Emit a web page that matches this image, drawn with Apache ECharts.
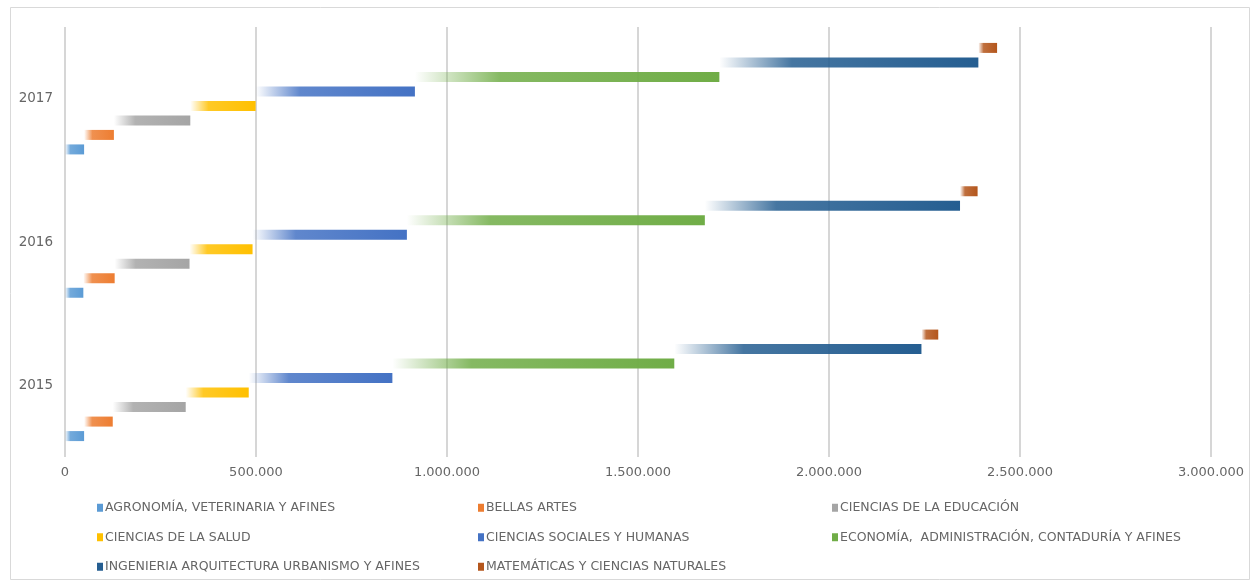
<!DOCTYPE html>
<html>
<head>
<meta charset="utf-8">
<script src="https://cdn.jsdelivr.net/npm/echarts@6/dist/echarts.min.js"></script>
<style>
  html, body { margin: 0; padding: 0; background: #fff; }
  #chart { width: 1258px; height: 586px; }
</style>
</head>
<body>
<div id="chart"></div>
<script>
// Enrolment by field of knowledge, per year
const years = ['2015', '2016', '2017'];
const seriesNames = [
  'AGRONOMÍA, VETERINARIA Y AFINES',
  'BELLAS ARTES',
  'CIENCIAS DE LA EDUCACIÓN',
  'CIENCIAS DE LA SALUD',
  'CIENCIAS SOCIALES Y HUMANAS',
  'ECONOMÍA,  ADMINISTRACIÓN, CONTADURÍA Y AFINES',
  'INGENIERIA ARQUITECTURA URBANISMO Y AFINES',
  'MATEMÁTICAS Y CIENCIAS NATURALES'
];
const agronomia   = [50000, 48000, 50000];
const bellasArtes = [75000, 82000, 78000];
const educacion   = [191000, 196000, 200000];
const salud       = [165000, 165000, 171000];
const sociales    = [376000, 404000, 417000];
const economia    = [738000, 780000, 797000];
const ingenieria  = [647000, 668000, 678000];
const matematicas = [44000, 46000, 49000];
const xTicks = [0, 500000, 1000000, 1500000, 2000000, 2500000, 3000000];

const values = [agronomia, bellasArtes, educacion, salud, sociales, economia, ingenieria, matematicas];
const colors = ['#5B9BD5', '#ED7D31', '#A5A5A5', '#FFC000', '#4472C4', '#70AD47', '#255E91', '#B4561C'];

function hexToRgba(hex, a) {
  const n = parseInt(hex.slice(1), 16);
  return 'rgba(' + ((n >> 16) & 255) + ',' + ((n >> 8) & 255) + ',' + (n & 255) + ',' + a + ')';
}
function fade(hex) {
  return new echarts.graphic.LinearGradient(0, 0, 1, 0, [
    { offset: 0, color: hexToRgba(hex, 0) },
    { offset: 0.28, color: hexToRgba(hex, 0.85) },
    { offset: 1, color: hexToRgba(hex, 1) }
  ]);
}
function fmt(v) {
  return String(v).replace(/\B(?=(\d{3})+(?!\d))/g, '.');
}

// Each field begins where the previous field ends: the offset is the running total.
const bases = [];
const running = years.map(() => 0);
values.forEach((vals) => {
  bases.push(running.slice());
  vals.forEach((v, k) => { running[k] += v; });
});

// Slots are filled top-down, so the last field goes first to keep the first one at the bottom.
const series = [];
for (let i = values.length - 1; i >= 0; i--) {
  series.push({
    name: '_base' + i,
    type: 'bar',
    stack: 's' + i,
    data: bases[i],
    itemStyle: { color: 'transparent' },
    barWidth: 10,
    barGap: '45%',
    silent: true
  });
  series.push({
    name: seriesNames[i],
    type: 'bar',
    stack: 's' + i,
    data: values[i],
    itemStyle: { color: fade(colors[i]) },
    barWidth: 10,
    barGap: '45%'
  });
}

const legendText = { color: '#666', fontSize: 12.5, fontFamily: 'DejaVu Sans' };
function legendCol(left, names) {
  return {
    orient: 'vertical',
    left: left,
    top: 495,
    itemWidth: 6,
    itemHeight: 8,
    itemGap: 14,
    icon: 'rect',
    textStyle: Object.assign({ lineHeight: 15.5, padding: [0, 0, 0, -3] }, legendText),
    data: names.map(n => ({ name: n, itemStyle: { color: colors[seriesNames.indexOf(n)] } }))
  };
}

const chart = echarts.init(document.getElementById('chart'));
chart.setOption({
  animation: false,
  backgroundColor: '#fff',
  grid: { left: 65, right: 47, top: 27, bottom: 129, containLabel: false },
  xAxis: {
    type: 'value',
    min: xTicks[0],
    max: xTicks[xTicks.length - 1],
    interval: xTicks[1] - xTicks[0],
    axisLine: { show: false },
    axisTick: { show: false },
    splitLine: { lineStyle: { color: '#D6D6D6', width: 2 } },
    axisLabel: { color: '#666', fontSize: 13, fontFamily: 'DejaVu Sans', margin: 9, formatter: fmt }
  },
  yAxis: {
    type: 'category',
    data: years,
    axisLine: { show: false },
    axisTick: { show: false },
    axisLabel: { color: '#666', fontSize: 13.5, fontFamily: 'DejaVu Sans', margin: 12 }
  },
  legend: [
    legendCol(92, [seriesNames[0], seriesNames[3], seriesNames[6]]),
    legendCol(473, [seriesNames[1], seriesNames[4], seriesNames[7]]),
    legendCol(827, [seriesNames[2], seriesNames[5]])
  ],
  graphic: [{
    type: 'rect',
    shape: { x: 10.5, y: 7.5, width: 1239, height: 572 },
    style: { fill: 'none', stroke: '#D9D9D9', lineWidth: 1 },
    silent: true,
    z: -1
  }],
  series: series
});
</script>
</body>
</html>
